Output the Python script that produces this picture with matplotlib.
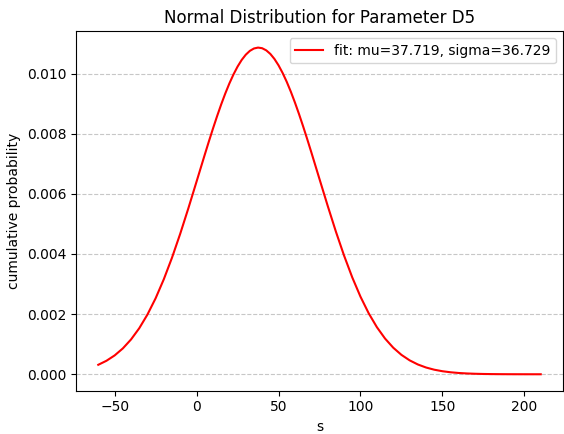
import matplotlib
matplotlib.use("Agg")
import matplotlib.pyplot as plt

x_vals = [-60, -55, -50, -45, -40, -35, -30, -25, -20, -15, -10, -5, 0, 5, 7.5, 10, 12.5, 15,
          17.5, 20, 22.5, 25, 27.5, 30, 32.5, 35, 37.5, 40, 42.5, 45, 47.5, 50, 52.5, 55, 57.5,
          60, 62.5, 65, 67.5, 70, 75, 80, 85, 90, 95, 100, 105, 110, 115, 120,
          125, 130, 135, 140, 145, 150, 155, 160, 165, 170, 175, 180, 185, 190, 195, 200, 205, 210]
y_vals = [0.0003153, 0.000449, 0.000627, 0.000860, 0.001158, 0.001530, 0.001985, 0.002527,
          0.003160, 0.003877, 0.004671, 0.005523, 0.006411, 0.007304, 0.007743, 0.008170,
          0.008581, 0.008971, 0.009335, 0.009669, 0.009968, 0.010230, 0.010450, 0.010625,
          0.010753, 0.010832, 0.010862, 0.010841, 0.010770, 0.010651, 0.010484, 0.010272,
          0.010017, 0.009724, 0.009396, 0.009036, 0.008651, 0.008243, 0.007819, 0.007382,
          0.006489, 0.005600, 0.004743, 0.003944, 0.003219,
          0.002580, 0.002029, 0.001567, 0.001187, 0.000883, 0.000645, 0.000463, 0.000326,
          0.000225, 0.000152, 0.0001015, 0.0000663, 0.0000425, 0.0000268, 0.0000166,
          0.0000100, 0.0000060, 0.0000035, 0.0000020, 0.0000011, 0.0000006, 0.0000003, 0.0000002]
legend_label = "fit: mu=37.719, sigma=36.729"
title = "Normal Distribution for Parameter D5"

fig, ax = plt.subplots(figsize=(5.64, 4.34), dpi=100)
ax.plot(x_vals, y_vals, color="red", label=legend_label)
ax.set_title(title)
ax.set_xlabel("s")
ax.set_ylabel("cumulative probability")
ax.grid(axis="y", linestyle="--", color="#b0b0b0", alpha=0.7)
ax.legend(loc="upper right")
fig.subplots_adjust(left=0.135, right=0.998, top=0.928, bottom=0.1)
fig.savefig("out.png", dpi=100)
